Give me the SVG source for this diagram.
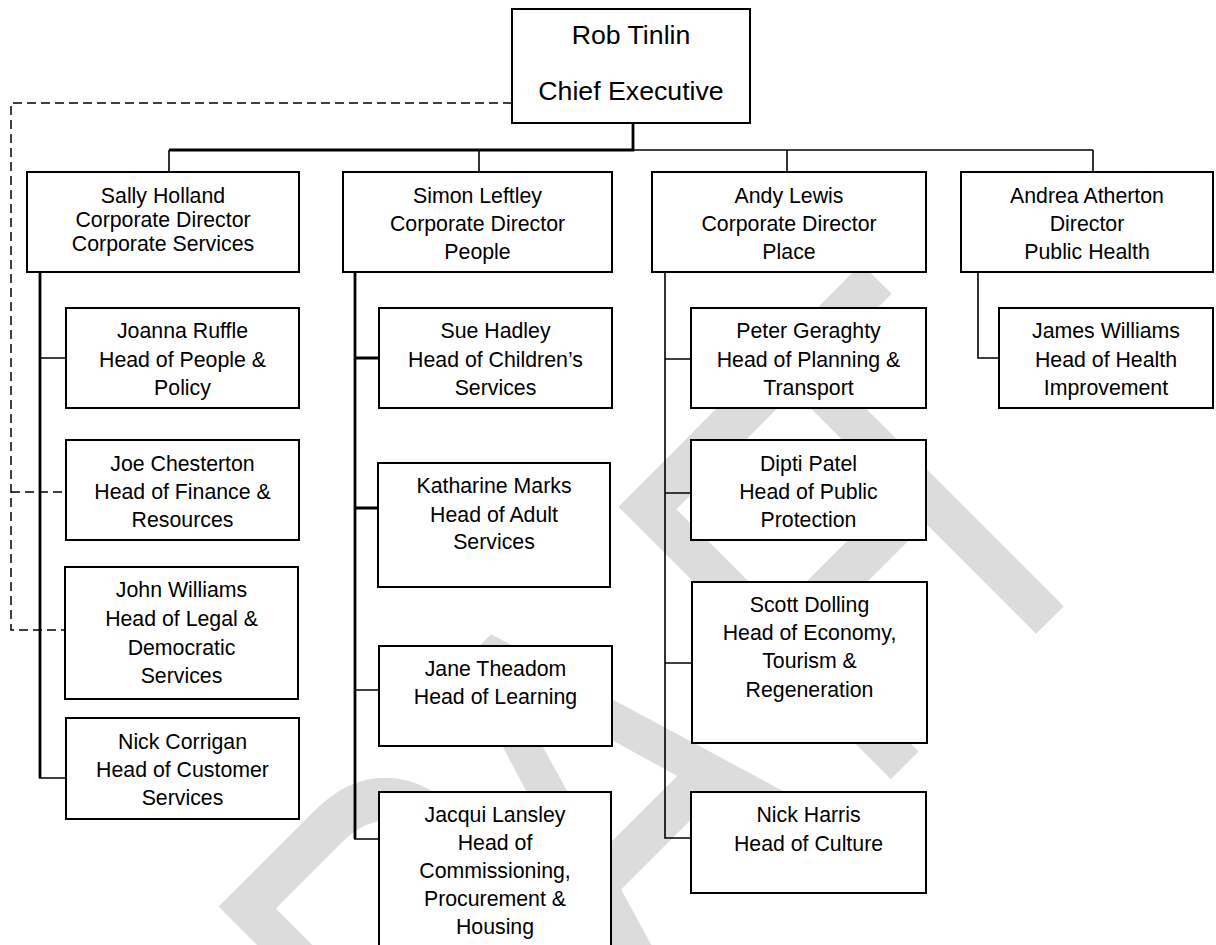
<svg xmlns="http://www.w3.org/2000/svg" width="1216" height="945" viewBox="0 0 1216 945">
<style>
.wm{font-family:"Liberation Sans",Arial,sans-serif;font-size:560px;fill:#dcdcdc}
.box{fill:#fff;stroke:#000;stroke-width:2}
.t{font-family:"Liberation Sans",Arial,sans-serif;font-size:21.3px;fill:#000;text-anchor:middle}
.ceo{font-size:26.7px}
.c{fill:none;stroke:#000;stroke-width:1.6}
.ck{fill:none;stroke:#000;stroke-width:2.8}
.dash{fill:none;stroke:#000;stroke-width:1.5;stroke-dasharray:9 5}
</style>
<rect width="1216" height="945" fill="#fff"/>
<g id="watermark">
<text class="wm" transform="translate(1050,620) rotate(-45) scale(0.75,1)" x="-1510 -1100 -758 -346 -171" y="0">DRAFT</text>
</g>
<g id="connectors">
<path class="ck" d="M633 123V150H169"/>
<path class="c" d="M633 150H1093"/>
<path class="c" d="M169 150V172M479 150V172M787 150V172M1093 150V172"/>
<path class="ck" d="M40 272V778"/>
<path class="c" d="M39 778H66M40 358H66"/>
<path class="ck" d="M355 272V839"/>
<path class="ck" d="M355 358H379M355 508H378"/>
<path class="c" d="M354 839H379M355 690H379"/>
<path class="c" d="M665 272V838H691M665 359H691M665 493H691M665 663H692"/>
<path class="c" d="M978 272V358H999"/>
<path class="dash" d="M512 103H11V630H66M11 492H66"/>
</g>
<g id="ceo">
<rect class="box" x="512" y="9" width="238" height="114"/>
<text class="t ceo" x="631" y="44">Rob Tinlin</text>
<text class="t ceo" x="631" y="100">Chief Executive</text>
</g>
<g id="sally">
<rect class="box" x="27" y="172" width="272" height="100"/>
<text class="t" x="163" y="203">Sally Holland</text>
<text class="t" x="163" y="227">Corporate Director</text>
<text class="t" x="163" y="251">Corporate Services</text>
</g>
<g id="simon">
<rect class="box" x="343" y="172" width="269" height="100"/>
<text class="t" x="477.5" y="203">Simon Leftley</text>
<text class="t" x="477.5" y="231">Corporate Director</text>
<text class="t" x="477.5" y="259">People</text>
</g>
<g id="andy">
<rect class="box" x="652" y="172" width="274" height="100"/>
<text class="t" x="789" y="203">Andy Lewis</text>
<text class="t" x="789" y="231">Corporate Director</text>
<text class="t" x="789" y="259">Place</text>
</g>
<g id="andrea">
<rect class="box" x="961" y="172" width="252" height="100"/>
<text class="t" x="1087" y="203">Andrea Atherton</text>
<text class="t" x="1087" y="231">Director</text>
<text class="t" x="1087" y="259">Public Health</text>
</g>
<g id="joanna">
<rect class="box" x="66" y="308" width="233" height="100"/>
<text class="t" x="182.5" y="338">Joanna Ruffle</text>
<text class="t" x="182.5" y="367">Head of People &amp;</text>
<text class="t" x="182.5" y="395">Policy</text>
</g>
<g id="joe">
<rect class="box" x="66" y="440" width="233" height="100"/>
<text class="t" x="182.5" y="471">Joe Chesterton</text>
<text class="t" x="182.5" y="499">Head of Finance &amp;</text>
<text class="t" x="182.5" y="527">Resources</text>
</g>
<g id="john">
<rect class="box" x="65" y="567" width="233" height="132"/>
<text class="t" x="181.5" y="597">John Williams</text>
<text class="t" x="181.5" y="626">Head of Legal &amp;</text>
<text class="t" x="181.5" y="655">Democratic</text>
<text class="t" x="181.5" y="683">Services</text>
</g>
<g id="nick-corrigan">
<rect class="box" x="66" y="718" width="233" height="101"/>
<text class="t" x="182.5" y="749">Nick Corrigan</text>
<text class="t" x="182.5" y="777">Head of Customer</text>
<text class="t" x="182.5" y="805">Services</text>
</g>
<g id="sue">
<rect class="box" x="379" y="308" width="233" height="100"/>
<text class="t" x="495.5" y="338">Sue Hadley</text>
<text class="t" x="495.5" y="367">Head of Children’s</text>
<text class="t" x="495.5" y="395">Services</text>
</g>
<g id="katharine">
<rect class="box" x="378" y="463" width="232" height="124"/>
<text class="t" x="494" y="493">Katharine Marks</text>
<text class="t" x="494" y="522">Head of Adult</text>
<text class="t" x="494" y="549">Services</text>
</g>
<g id="jane">
<rect class="box" x="379" y="646" width="233" height="100"/>
<text class="t" x="495.5" y="676">Jane Theadom</text>
<text class="t" x="495.5" y="704">Head of Learning</text>
</g>
<g id="jacqui">
<rect class="box" x="379" y="792" width="232" height="170"/>
<text class="t" x="495" y="822">Jacqui Lansley</text>
<text class="t" x="495" y="850">Head of</text>
<text class="t" x="495" y="878">Commissioning,</text>
<text class="t" x="495" y="906">Procurement &amp;</text>
<text class="t" x="495" y="934">Housing</text>
</g>
<g id="peter">
<rect class="box" x="691" y="308" width="235" height="100"/>
<text class="t" x="808.5" y="338">Peter Geraghty</text>
<text class="t" x="808.5" y="367">Head of Planning &amp;</text>
<text class="t" x="808.5" y="395">Transport</text>
</g>
<g id="dipti">
<rect class="box" x="691" y="440" width="235" height="100"/>
<text class="t" x="808.5" y="471">Dipti Patel</text>
<text class="t" x="808.5" y="499">Head of Public</text>
<text class="t" x="808.5" y="527">Protection</text>
</g>
<g id="scott">
<rect class="box" x="692" y="582" width="235" height="161"/>
<text class="t" x="809.5" y="612">Scott Dolling</text>
<text class="t" x="809.5" y="640">Head of Economy,</text>
<text class="t" x="809.5" y="668">Tourism &amp;</text>
<text class="t" x="809.5" y="697">Regeneration</text>
</g>
<g id="nick-harris">
<rect class="box" x="691" y="792" width="235" height="101"/>
<text class="t" x="808.5" y="822">Nick Harris</text>
<text class="t" x="808.5" y="851">Head of Culture</text>
</g>
<g id="james">
<rect class="box" x="999" y="308" width="214" height="100"/>
<text class="t" x="1106" y="338">James Williams</text>
<text class="t" x="1106" y="367">Head of Health</text>
<text class="t" x="1106" y="395">Improvement</text>
</g>
</svg>
